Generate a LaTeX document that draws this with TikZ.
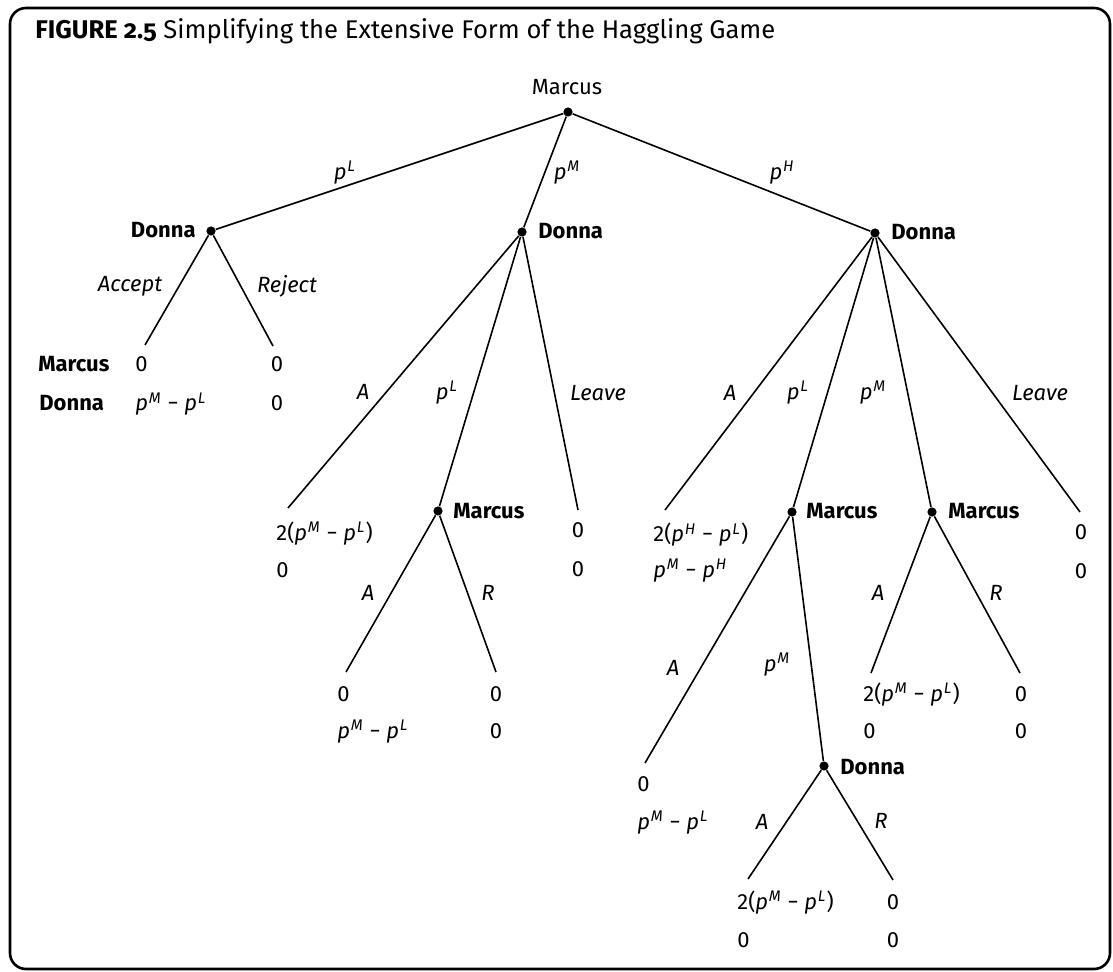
\documentclass[tikz,border=0pt]{standalone}
\usepackage{fontspec}
\setmainfont{Fira Sans}[Numbers=Lining]
% price with a superscript tag, e.g. p^M
\newcommand\pv[1]{\textit{p}\textsuperscript{\kern0.05em\textit{#1}}}
\begin{document}
\begin{tikzpicture}[x=0.5pt,y=-0.5pt,
  every node/.style={inner sep=0pt},
  base/.style={font=\fontsize{11}{13}\selectfont},
  dot/.style={circle,fill=black,minimum size=4.6pt},
  who/.style={base,font=\fontsize{11}{13}\selectfont\bfseries},
  act/.style={base,font=\fontsize{11}{13}\selectfont\itshape},
  pay/.style={base,anchor=base west},
  payc/.style={base,anchor=base},
  branch/.style={line width=0.8pt}]
\useasboundingbox (0,0) rectangle (1113,972);
\draw[line width=1.3pt,rounded corners=8pt] (10,8) rectangle (1110,969);
\node[anchor=base west,font=\fontsize{12.8}{15}\selectfont\addfontfeatures{Numbers=OldStyle}] (title) at (35,39)
  {\textbf{FIGURE 2.5} Simplifying the Extensive Form of the Haggling Game};

% decision nodes
\node[dot] (r)  at (568,112) {};
\node[dot] (d1) at (211,231) {};
\node[dot] (d2) at (522,232) {};
\node[dot] (d3) at (875,233) {};
\node[dot] (m2) at (438,511) {};
\node[dot] (m3) at (792,512) {};
\node[dot] (m4) at (932,512) {};
\node[dot] (d4) at (824,766) {};

% terminal points
\coordinate (t1)  at (145,345);
\coordinate (t2)  at (273,346);
\coordinate (t3)  at (288,508);
\coordinate (t4)  at (578,510);
\coordinate (t5)  at (346,672);
\coordinate (t6)  at (496,672);
\coordinate (t7)  at (665,510);
\coordinate (t8)  at (1080,512);
\coordinate (t9)  at (645,763);
\coordinate (t10) at (748,879);
\coordinate (t11) at (893,880);
\coordinate (t12) at (871,673);
\coordinate (t13) at (1020,673);

% player names
\node[base,anchor=base] (rl) at (567,95) {Marcus};
\node[who,anchor=base east] (d1l) at (196,238) {Donna};
\node[who,anchor=base west] (d2l) at (538,239) {Donna};
\node[who,anchor=base west] (d3l) at (891,240) {Donna};
\node[who,anchor=base west] (m2l) at (453,518) {Marcus};
\node[who,anchor=base west] (m3l) at (806,519) {Marcus};
\node[who,anchor=base west] (m4l) at (948,519) {Marcus};
\node[who,anchor=base west] (d4l) at (840,774) {Donna};

% branches
\draw[branch] (r) -- (d1);
\draw[branch] (r) -- (d2);
\draw[branch] (r) -- (d3);
\draw[branch] (d1) -- (t1);
\draw[branch] (d1) -- (t2);
\draw[branch] (d2) -- (t3);
\draw[branch] (d2) -- (m2);
\draw[branch] (d2) -- (t4);
\draw[branch] (m2) -- (t5);
\draw[branch] (m2) -- (t6);
\draw[branch] (d3) -- (t7);
\draw[branch] (d3) -- (m3);
\draw[branch] (d3) -- (m4);
\draw[branch] (d3) -- (t8);
\draw[branch] (m3) -- (t9);
\draw[branch] (m3) -- (d4);
\draw[branch] (d4) -- (t10);
\draw[branch] (d4) -- (t11);
\draw[branch] (m4) -- (t12);
\draw[branch] (m4) -- (t13);

% action labels
\node[act] (a1)  at (345,173) {\pv{L}};
\node[act] (a2)  at (567,173) {\pv{M}};
\node[act] (a3)  at (782,173) {\pv{H}};
\node[act] (a4)  at (130,286) {Accept};
\node[act] (a5)  at (287,286) {Reject};
\node[act] (a6)  at (363,392) {A};
\node[act] (a7)  at (447,393) {\pv{L}};
\node[act] (a8)  at (598,393) {Leave};
\node[act] (a9)  at (368,593) {A};
\node[act] (a10) at (488,593) {R};
\node[act] (a11) at (730,393) {A};
\node[act] (a12) at (798,393) {\pv{L}};
\node[act] (a13) at (873,393) {\pv{M}};
\node[act] (a14) at (1040,393) {Leave};
\node[act] (a15) at (673,668) {A};
\node[act] (a16) at (777,665) {\pv{M}};
\node[act] (a17) at (762,822) {A};
\node[act] (a18) at (881,821) {R};
\node[act] (a19) at (878,593) {A};
\node[act] (a20) at (996,593) {R};

% payoffs (Marcus above, Donna below)
\node[who,anchor=base west] (rowm) at (38,372) {Marcus};
\node[who,anchor=base west] (rowd) at (39,411) {Donna};
\node[pay]  (u1a) at (135,372) {0};
\node[pay]  (u1b) at (135,411) {\pv{M} − \pv{L}};
\node[payc] (u2a) at (277,372) {0};
\node[payc] (u2b) at (277,411) {0};

\node[pay]  (u3a) at (276,540) {2(\pv{M} − \pv{L})};
\node[pay]  (u3b) at (276,577) {0};
\node[payc] (u4a) at (578,538) {0};
\node[payc] (u4b) at (578,576) {0};

\node[pay]  (u5a) at (337,701) {0};
\node[pay]  (u5b) at (337,738) {\pv{M} − \pv{L}};
\node[payc] (u6a) at (496,701) {0};
\node[payc] (u6b) at (496,738) {0};

\node[pay]  (u7a) at (653,542) {2(\pv{H} − \pv{L})};
\node[pay]  (u7b) at (653,577) {\pv{M} − \pv{H}};
\node[payc] (u8a) at (1081,539) {0};
\node[payc] (u8b) at (1081,578) {0};

\node[pay]  (u9a) at (637,791) {0};
\node[pay]  (u9b) at (637,829) {\pv{M} − \pv{L}};

\node[pay]  (u10a) at (737,909) {2(\pv{M} − \pv{L})};
\node[pay]  (u10b) at (737,947) {0};
\node[payc] (u11a) at (893,909) {0};
\node[payc] (u11b) at (893,947) {0};

\node[pay]  (u12a) at (863,701) {2(\pv{M} − \pv{L})};
\node[pay]  (u12b) at (863,738) {0};
\node[payc] (u13a) at (1021,701) {0};
\node[payc] (u13b) at (1021,738) {0};
\end{tikzpicture}
\end{document}
